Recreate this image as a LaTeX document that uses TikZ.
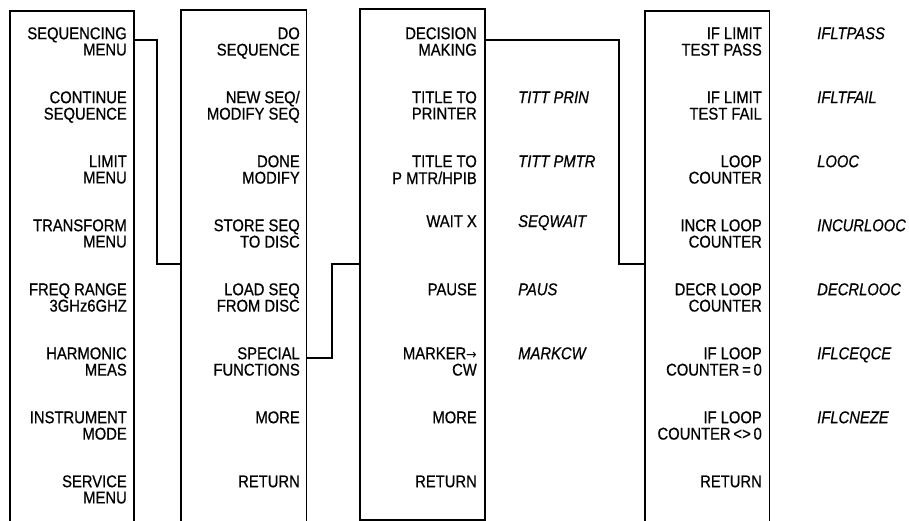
\documentclass[tikz,border=0pt]{standalone}
\usepackage{fontspec}
\setmainfont{Liberation Sans}[FakeStretch=0.87,FakeBold=0.6]
\newfontfamily\arrowfont{DejaVu Sans}[FakeStretch=0.9]
\newcommand\twoline[2]{\begin{tabular}[t]{@{}r@{}}#1\\#2\end{tabular}}
\begin{document}
\begin{tikzpicture}[x=1pt,y=-1pt,
  font=\fontsize{17}{15}\selectfont,
  menubox/.style={draw, line width=1.6pt, anchor=north west, inner sep=0pt},
  item/.style={anchor=base east, inner sep=0pt},
  code/.style={anchor=base west, inner sep=0pt, font=\fontsize{17}{15}\selectfont\itshape},
  conn/.style={draw, line width=1.6pt}]
\useasboundingbox (0,0) rectangle (909,521);
% boxes
\node[menubox, minimum width=124pt, minimum height=514pt] (b1) at (9,10) {};
\node[menubox, minimum width=125.5pt, minimum height=514.5pt] (b2) at (180,9.5) {};
\node[menubox, minimum width=125pt, minimum height=511pt] (b3) at (359,8) {};
\node[menubox, minimum width=124.5pt, minimum height=514pt] (b4) at (644,10) {};
% box 1
\node[item] (a1) at (127,39.2) {\twoline{SEQUENCING}{MENU}};
\node[item] (a2) at (127,103.2) {\twoline{CONTINUE}{SEQUENCE}};
\node[item] (a3) at (127,167.2) {\twoline{LIMIT}{MENU}};
\node[item] (a4) at (127,231.2) {\twoline{TRANSFORM}{MENU}};
\node[item] (a5) at (127,295.2) {\twoline{FREQ RANGE}{3GHz6GHZ}};
\node[item] (a6) at (127,359.2) {\twoline{HARMONIC}{MEAS}};
\node[item] (a7) at (127,423.2) {\twoline{INSTRUMENT}{MODE}};
\node[item] (a8) at (127,487.2) {\twoline{SERVICE}{MENU}};
% box 2
\node[item] (d1) at (300,39.2) {\twoline{DO}{SEQUENCE}};
\node[item] (d2) at (300,103.2) {\twoline{NEW SEQ/}{MODIFY SEQ}};
\node[item] (d3) at (300,167.2) {\twoline{DONE}{MODIFY}};
\node[item] (d4) at (300,231.2) {\twoline{STORE SEQ}{TO DISC}};
\node[item] (d5) at (300,295.2) {\twoline{LOAD SEQ}{FROM DISC}};
\node[item] (d6) at (300,359.2) {\twoline{SPECIAL}{FUNCTIONS}};
\node[item] (d7) at (300,423.2) {MORE};
\node[item] (d8) at (300,487.2) {RETURN};
% box 3
\node[item] (s1) at (477,39.2) {\twoline{DECISION}{MAKING}};
\node[item] (s2) at (477,103.2) {\twoline{TITLE TO}{PRINTER}};
\node[item] (s3) at (477,167.2) {\twoline{TITLE TO}{P MTR/HPIB}};
\node[item] (s4) at (477,227) {WAIT X};
\node[item] (s5) at (477,295.2) {PAUSE};
\node[item] (s6) at (477,359.2) {\twoline{MARKER{\arrowfont\fontsize{14}{15}\selectfont→}}{CW}};
\node[item] (s7) at (477,423.2) {MORE};
\node[item] (s8) at (477,487.2) {RETURN};
\node[code] (k2) at (518,103.2) {TITT PRIN};
\node[code] (k3) at (518,167.2) {TITT PMTR};
\node[code] (k4) at (518,227) {SEQWAIT};
\node[code] (k5) at (518,295.2) {PAUS};
\node[code] (k6) at (518,359.2) {MARKCW};
% box 4
\node[item] (m1) at (762,39.2) {\twoline{IF LIMIT}{TEST PASS}};
\node[item] (m2) at (762,103.2) {\twoline{IF LIMIT}{TEST FAIL}};
\node[item] (m3) at (762,167.2) {\twoline{LOOP}{COUNTER}};
\node[item] (m4) at (762,231.2) {\twoline{INCR LOOP}{COUNTER}};
\node[item] (m5) at (762,295.2) {\twoline{DECR LOOP}{COUNTER}};
\node[item] (m6) at (762,359.2) {\twoline{IF LOOP}{COUNTER\,=\,0}};
\node[item] (m7) at (762,423.2) {\twoline{IF LOOP}{COUNTER\,<>\,0}};
\node[item] (m8) at (762,487.2) {RETURN};
\node[code] (n1) at (817,39.2) {IFLTPASS};
\node[code] (n2) at (817,103.2) {IFLTFAIL};
\node[code] (n3) at (817,167.2) {LOOC};
\node[code] (n4) at (817,231.2) {INCURLOOC};
\node[code] (n5) at (817,295.2) {DECRLOOC};
\node[code] (n6) at (817,359.2) {IFLCEQCE};
\node[code] (n7) at (817,423.2) {IFLCNEZE};
% connectors
\coordinate (t1) at (133,40);
\coordinate (j1) at (157,264);
\coordinate (t2) at (305,358);
\coordinate (j2) at (332,264);
\coordinate (t3) at (484,40);
\coordinate (j3) at (619,264);
\draw[conn] (t1 -| b1.east) -| (j1) -- (j1 -| b2.west);
\draw[conn] (t2 -| b2.east) -| (j2) -- (j2 -| b3.west);
\draw[conn] (t3 -| b3.east) -| (j3) -- (j3 -| b4.west);
\end{tikzpicture}
\end{document}
